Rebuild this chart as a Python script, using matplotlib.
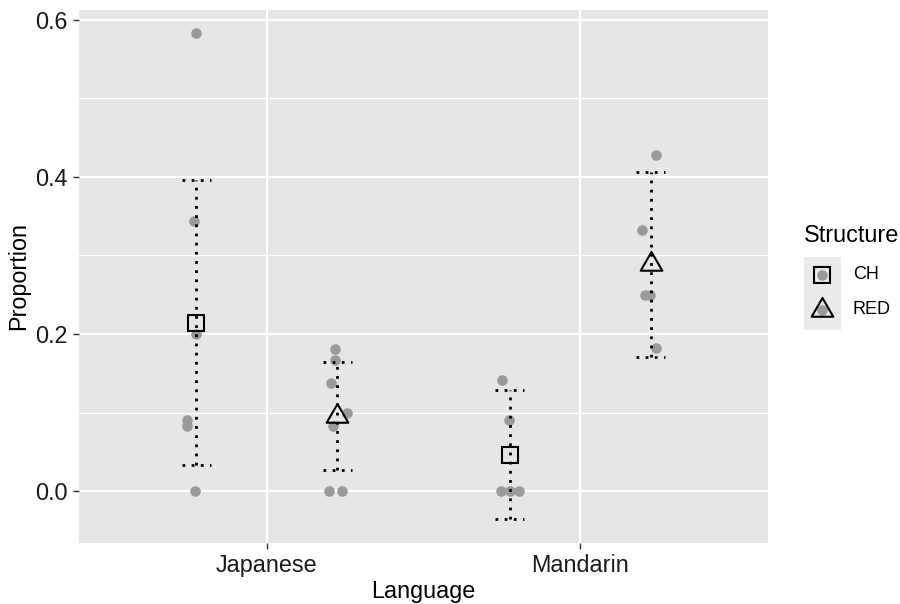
import numpy as np
import matplotlib
matplotlib.use("Agg")
import matplotlib.pyplot as plt
from matplotlib.lines import Line2D
from matplotlib.patches import Rectangle
from matplotlib.path import Path

plt.rcParams['font.family'] = ['Liberation Sans', 'DejaVu Sans']

# Data
languages = ['Japanese', 'Mandarin']
structures = ['CH', 'RED']

# raw proportions per (language, structure) and their jitter offsets (category units)
jp_ch = [0.583, 0.344, 0.200, 0.091, 0.083, 0.000]
jp_ch_jit = [-0.003, -0.009, 0.000, -0.029, -0.029, -0.004]
jp_red = [0.181, 0.167, 0.138, 0.100, 0.083, 0.000, 0.000]
jp_red_jit = [-0.006, -0.006, -0.019, 0.030, -0.013, -0.027, 0.015]
md_ch = [0.142, 0.090, 0.000, 0.000, 0.000]
md_ch_jit = [-0.023, -0.003, -0.029, 0.000, 0.029]
md_red = [0.428, 0.333, 0.250, 0.250, 0.182]
md_red_jit = [0.017, -0.028, -0.019, -0.001, 0.017]

# summary: mean and error limits (JP-CH, JP-RED, MD-CH, MD-RED)
means = [0.214, 0.095, 0.046, 0.289]
lower = [0.033, 0.027, -0.036, 0.171]
upper = [0.396, 0.164, 0.129, 0.406]

groups = [(0, 0, jp_ch, jp_ch_jit), (0, 1, jp_red, jp_red_jit),
          (1, 0, md_ch, md_ch_jit), (1, 1, md_red, md_red_jit)]

dodge = 0.225
cap = 0.047
point_col = '#9a9a9a'
fs = 16.8

fig = plt.figure(figsize=(9, 6.04), dpi=100)
ax = fig.add_axes([79 / 900, (604 - 543) / 604, (768 - 79) / 900, (543 - 10) / 604])
ax.set_facecolor('#e6e6e6')
for s in ax.spines.values():
    s.set_visible(False)

# grid
for y in [-0.1, 0.1, 0.3, 0.5]:
    ax.axhline(y, color='white', lw=0.9, zorder=0)
for y in [0.0, 0.2, 0.4, 0.6]:
    ax.axhline(y, color='white', lw=1.6, zorder=0)
for x in range(len(languages)):
    ax.axvline(x, color='white', lw=1.6, zorder=0)

# jittered points
for li, si, vals, jit in groups:
    xc = li + (si - 0.5) * 2 * dodge
    ax.plot(xc + np.array(jit), vals, 'o', color=point_col, ms=7.6, mec='none', zorder=2)

# error bars (dotted)
dots = (0, (1, 2.3))
for k, (li, si, vals, jit) in enumerate(groups):
    xc = li + (si - 0.5) * 2 * dodge
    ax.plot([xc, xc], [lower[k], upper[k]], color='black', lw=2.0, ls=dots, zorder=3)
    ax.plot([xc - cap, xc + cap], [upper[k], upper[k]], color='black', lw=2.0, ls=dots, zorder=3)
    ax.plot([xc - cap, xc + cap], [lower[k], lower[k]], color='black', lw=2.0, ls=dots, zorder=3)

tri = Path([(-1, -0.577), (1, -0.577), (0, 1.155), (-1, -0.577)],
           [Path.MOVETO, Path.LINETO, Path.LINETO, Path.CLOSEPOLY])
shapes = {0: dict(marker='s', ms=11.5), 1: dict(marker=tri, ms=18)}

for k, (li, si, vals, jit) in enumerate(groups):
    xc = li + (si - 0.5) * 2 * dodge
    ax.plot([xc], [means[k]], ls='none', mfc='none', mec='black', mew=1.5,
            zorder=4, **shapes[si])

ax.set_xlim(-0.6, len(languages) - 1 + 0.6)
ax.set_ylim(-0.0662, 0.6127)
ax.set_xticks(range(len(languages)))
ax.set_xticklabels(languages)
ax.set_yticks([0.0, 0.2, 0.4, 0.6])
ax.set_yticklabels(['0.0', '0.2', '0.4', '0.6'])
ax.tick_params(axis='both', length=4, width=1, color='#333333', labelsize=fs,
               labelcolor='#1a1a1a', pad=4)
ax.set_xlabel('Language', fontsize=fs, labelpad=2)
ax.set_ylabel('Proportion', fontsize=fs, labelpad=4)

# legend drawn by hand
def fx(px):
    return px / 900

def fy(py):
    return 1 - py / 604

fig.text(fx(804), fy(235), 'Structure', fontsize=fs, va='center', ha='left')
fig.add_artist(Rectangle((fx(804), fy(330)), fx(37), (330 - 257) / 604,
                         transform=fig.transFigure, facecolor='#ebebeb', edgecolor='none'))
for i, (name, ky) in enumerate(zip(structures, [275, 310])):
    fig.add_artist(Line2D([fx(822)], [fy(ky)], transform=fig.transFigure, ls='none',
                          marker='o', ms=7.6, color=point_col, mec='none'))
    fig.add_artist(Line2D([fx(822)], [fy(ky)], transform=fig.transFigure, ls='none',
                          mfc='none', mec='black', mew=1.5, **shapes[i]))
    fig.text(fx(853), fy(ky), name, fontsize=13, va='center', ha='left')

fig.savefig('out.png', dpi=100)
